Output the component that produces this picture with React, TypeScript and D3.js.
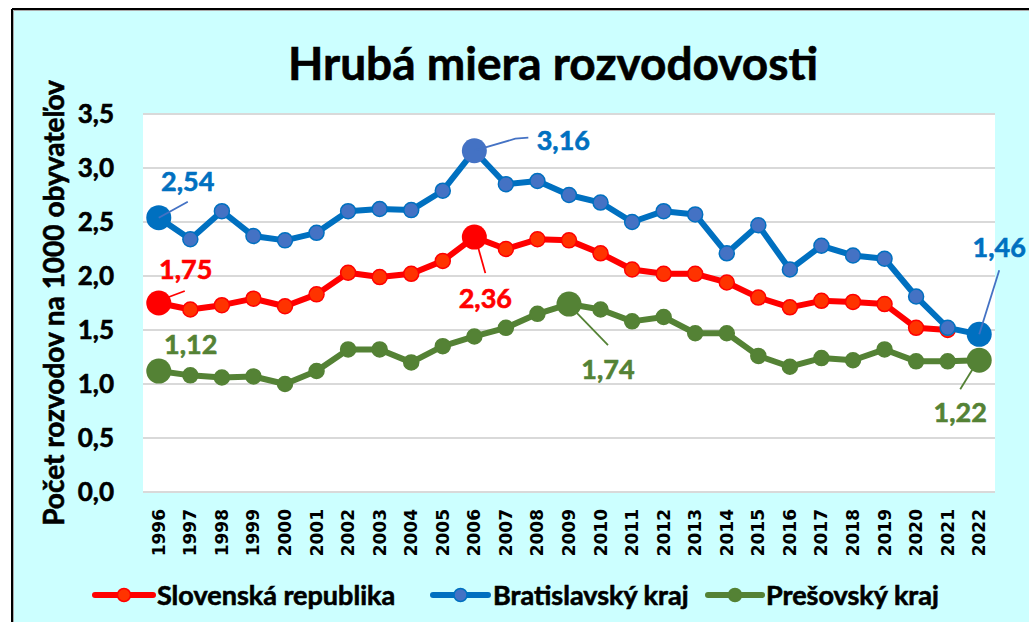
import React from "react";
import * as d3 from "d3";

const years = ["1996","1997","1998","1999","2000","2001","2002","2003","2004","2005","2006","2007","2008","2009","2010","2011","2012","2013","2014","2015","2016","2017","2018","2019","2020","2021","2022"];
const slovensko: (number | null)[] = [1.75,1.69,1.73,1.79,1.72,1.83,2.03,1.99,2.02,2.14,2.36,2.25,2.34,2.33,2.21,2.06,2.02,2.02,1.94,1.80,1.71,1.77,1.76,1.74,1.52,1.50,null];
const bratislava: (number | null)[] = [2.54,2.34,2.60,2.37,2.33,2.40,2.60,2.62,2.61,2.79,3.16,2.85,2.88,2.75,2.68,2.50,2.60,2.57,2.21,2.47,2.06,2.28,2.19,2.16,1.81,1.52,1.46];
const presov: (number | null)[] = [1.12,1.08,1.06,1.07,1.00,1.12,1.32,1.32,1.20,1.35,1.44,1.52,1.65,1.74,1.69,1.58,1.62,1.47,1.47,1.26,1.16,1.24,1.22,1.32,1.21,1.21,1.22];
const yTicks = [0, 0.5, 1.0, 1.5, 2.0, 2.5, 3.0, 3.5];
const seriesNames = ["Slovenská republika", "Bratislavský kraj", "Prešovský kraj"];
const title = "Hrubá miera rozvodovosti";
const yTitle = "Počet rozvodov  na 1000 obyvateľov";

type Series = {
  name: string; values: (number | null)[]; line: string; fill: string; stroke: string;
  big: { i: number; fill: string }[];
};

const series: Series[] = [
  { name: seriesNames[0], values: slovensko, line: "#FF0000", fill: "#FF3300", stroke: "#FF0000",
    big: [{ i: 0, fill: "#FF0000" }, { i: 10, fill: "#FF0000" }] },
  { name: seriesNames[1], values: bratislava, line: "#0070C0", fill: "#4472C4", stroke: "#0070C0",
    big: [{ i: 0, fill: "#0070C0" }, { i: 10, fill: "#4472C4" }, { i: 26, fill: "#0070C0" }] },
  { name: seriesNames[2], values: presov, line: "#548235", fill: "#548235", stroke: "#548235",
    big: [{ i: 0, fill: "#548235" }, { i: 13, fill: "#548235" }, { i: 26, fill: "#548235" }] },
];

// annotation: series index, point index, label offset, leader line offsets
const annotations = [
  { s: 1, i: 0, color: "#0070C0", lead: "#4472C4", dx: 29, dy: -36, path: [[0, 0], [29, -16]] },
  { s: 0, i: 0, color: "#FF0000", lead: "#FF0000", dx: 27, dy: -34, path: [[10, -6], [26, -12]] },
  { s: 2, i: 0, color: "#548235", lead: "#548235", dx: 32, dy: -27, path: [] },
  { s: 1, i: 10, color: "#0070C0", lead: "#4472C4", dx: 89, dy: -10, path: [[0, 0], [41, -12], [54, -13]] },
  { s: 0, i: 10, color: "#FF0000", lead: "#FF0000", dx: 11, dy: 61, path: [[4, 11], [11, 36]] },
  { s: 2, i: 13, color: "#548235", lead: "#548235", dx: 39, dy: 65, path: [[8, 9], [39, 41]] },
  { s: 1, i: 26, color: "#0070C0", lead: "#4472C4", dx: 20, dy: -87, path: [[0, 0], [20, -64]] },
  { s: 2, i: 26, color: "#548235", lead: "#548235", dx: -19, dy: 52, path: [[-6, 8], [-19, 29]] },
];

const W = 1029, H = 622;
const plot = { left: 143, right: 995, top: 114, bottom: 492 };
const FONT = "Lato, 'Open Sans', sans-serif";

export default function App() {
  const x = d3.scaleBand<string>().domain(years).range([plot.left, plot.right]);
  const y = d3.scaleLinear().domain([0, 3.5]).range([plot.bottom, plot.top]);
  const cx = (i: number) => (x(years[i]) as number) + x.bandwidth() / 2;
  const fmt = (v: number) => d3.format(".2f")(v).replace(".", ",");
  const fmt1 = (v: number) => d3.format(".1f")(v).replace(".", ",");
  const line = d3.line<number | null>()
    .defined((d) => d != null)
    .x((_, i) => cx(i))
    .y((d) => y(d as number));

  const legend = [
    { s: 0, x1: 95, x2: 153, tx: 157 },
    { s: 1, x1: 433, x2: 488, tx: 493 },
    { s: 2, x1: 708, x2: 762, tx: 766 },
  ];
  const legendY = 595;
  const heavy = (c: string) => ({ stroke: c, strokeWidth: 0.6, paintOrder: "stroke" as const });

  return (
    <svg width={W} height={H} style={{ position: "absolute", left: 0, top: 0 }} xmlns="http://www.w3.org/2000/svg">
      <rect x={0} y={0} width={W} height={H} fill="#ffffff" />
      <rect x={13} y={10} width={W} height={H} fill="#CCFFFF" />
      <line x1={12} y1={9} x2={W} y2={9} stroke="#000" strokeWidth={2} />
      <line x1={12} y1={9} x2={12} y2={H} stroke="#000" strokeWidth={2} />
      <line x1={13.5} y1={10.5} x2={W} y2={10.5} stroke="#aaa" strokeWidth={1} />
      <line x1={13.5} y1={10.5} x2={13.5} y2={H} stroke="#aaa" strokeWidth={1} />

      <text x={553} y={80} textAnchor="middle" fontFamily={FONT} fontWeight="bold" fontSize={46} fill="#000" {...heavy("#000")}>{title}</text>

      <rect x={plot.left} y={plot.top} width={plot.right - plot.left} height={plot.bottom - plot.top} fill="#fff" />
      {yTicks.map((t) => (
        <g key={t}>
          <line x1={plot.left} x2={plot.right} y1={y(t)} y2={y(t)} stroke="#D9D9D9" strokeWidth={2} />
          <text x={114} y={y(t)} dy="0.36em" textAnchor="end" fontFamily={FONT} fontWeight="bold" fontSize={26} fill="#000" {...heavy("#000")}>{fmt1(t)}</text>
        </g>
      ))}
      <text transform={`translate(64,${(plot.top + plot.bottom) / 2}) rotate(-90)`} textAnchor="middle" fontFamily={FONT} fontWeight="bold" fontSize={28} fill="#000" {...heavy("#000")}>{yTitle}</text>

      {years.map((yr, i) => (
        <text key={yr} transform={`translate(${cx(i) + 6},509) rotate(-90)`} textAnchor="end" fontFamily="'DejaVu Sans', Verdana, sans-serif" fontWeight="bold" fontSize={17} fill="#000">{yr}</text>
      ))}

      {series.map((s) => (
        <g key={s.name}>
          <path d={line(s.values) || ""} fill="none" stroke={s.line} strokeWidth={6} strokeLinejoin="round" />
          {s.values.map((v, i) => v == null ? null : (
            <circle key={i} cx={cx(i)} cy={y(v)} r={7.5} fill={s.fill} stroke={s.stroke} strokeWidth={1.5} />
          ))}
          {s.big.map((b) => {
            const v = s.values[b.i] as number;
            return <circle key={"b" + b.i} cx={cx(b.i)} cy={y(v)} r={12.5} fill={b.fill} />;
          })}
        </g>
      ))}

      {annotations.map((a, k) => {
        const v = series[a.s].values[a.i] as number;
        const px = cx(a.i), py = y(v);
        return (
          <g key={k}>
            {a.path.length > 1 && (
              <polyline points={a.path.map(([dx, dy]) => `${px + dx},${py + dy}`).join(" ")} fill="none" stroke={a.lead} strokeWidth={1.8} />
            )}
            <text x={px + a.dx} y={py + a.dy} dy="0.36em" textAnchor="middle" fontFamily={FONT} fontWeight="bold" fontSize={27} fill={a.color} {...heavy(a.color)}>{fmt(v)}</text>
          </g>
        );
      })}

      {legend.map((l) => {
        const s = series[l.s];
        return (
          <g key={s.name}>
            <line x1={l.x1} x2={l.x2} y1={legendY} y2={legendY} stroke={s.line} strokeWidth={6} strokeLinecap="round" />
            <circle cx={(l.x1 + l.x2) / 2} cy={legendY} r={6.5} fill={s.fill} stroke={s.stroke} strokeWidth={1.5} />
            <text x={l.tx} y={legendY} dy="0.36em" fontFamily={FONT} fontWeight="bold" fontSize={27} fill="#000" {...heavy("#000")}>{s.name}</text>
          </g>
        );
      })}
    </svg>
  );
}
